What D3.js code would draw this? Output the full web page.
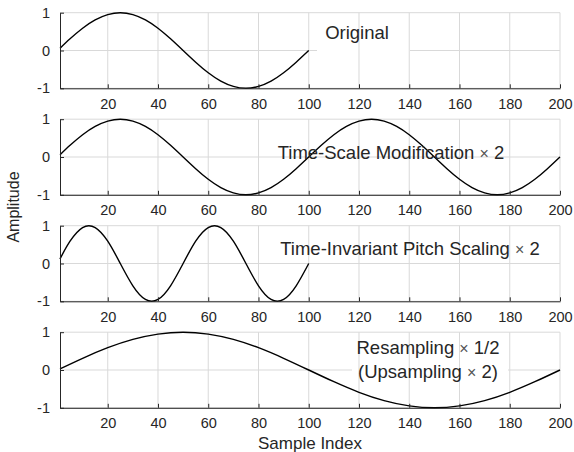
<!DOCTYPE html>
<html>
<head>
<meta charset="utf-8">
<script src="https://cdn.jsdelivr.net/npm/d3@7"></script>
<style>
  body { margin: 0; background: #fff; }
  text { font-family: "Liberation Sans", Arial, Helvetica, sans-serif; fill: #262626; }
</style>
</head>
<body>
<script>
// sample positions and amplitudes
var xOriginal = [1, 5, 10, 15, 20, 25, 30, 35, 40, 45, 50, 55, 60, 65, 70, 75, 80, 85, 90, 95, 100];
var yOriginal = [0.06, 0.31, 0.59, 0.81, 0.95, 1, 0.95, 0.81, 0.59, 0.31, 0, -0.31, -0.59, -0.81, -0.95, -1, -0.95, -0.81, -0.59, -0.31, 0];

var xTsm = [1, 5, 10, 15, 20, 25, 30, 35, 40, 45, 50, 55, 60, 65, 70, 75, 80, 85, 90, 95, 100,
            105, 110, 115, 120, 125, 130, 135, 140, 145, 150, 155, 160, 165, 170, 175, 180, 185, 190, 195, 200];
var yTsm = [0.06, 0.31, 0.59, 0.81, 0.95, 1, 0.95, 0.81, 0.59, 0.31, 0, -0.31, -0.59, -0.81, -0.95, -1, -0.95, -0.81, -0.59, -0.31, 0,
            0.31, 0.59, 0.81, 0.95, 1, 0.95, 0.81, 0.59, 0.31, 0, -0.31, -0.59, -0.81, -0.95, -1, -0.95, -0.81, -0.59, -0.31, 0];

var xPitch = [1, 5, 10, 15, 20, 25, 30, 35, 40, 45, 50, 55, 60, 65, 70, 75, 80, 85, 90, 95, 100];
var yPitch = [0.12, 0.59, 0.95, 0.95, 0.59, 0, -0.59, -0.95, -0.95, -0.59, 0, 0.59, 0.95, 0.95, 0.59, 0, -0.59, -0.95, -0.95, -0.59, 0];

var xResample = [1, 10, 20, 30, 40, 50, 60, 70, 80, 90, 100, 110, 120, 130, 140, 150, 160, 170, 180, 190, 200];
var yResample = [0.03, 0.31, 0.59, 0.81, 0.95, 1, 0.95, 0.81, 0.59, 0.31, 0, -0.31, -0.59, -0.81, -0.95, -1, -0.95, -0.81, -0.59, -0.31, 0];

var xTicks = [20, 40, 60, 80, 100, 120, 140, 160, 180, 200];
var yTicks = [-1, 0, 1];

var panels = [
  {xs: xOriginal, ys: yOriginal, label: ["Original"], lx: 357, ly: [39], box: [317, 18, 93, 36]},
  {xs: xTsm, ys: yTsm, label: ["Time-Scale Modification |2"], lx: 391, ly: [159], box: null},
  {xs: xPitch, ys: yPitch, label: ["Time-Invariant Pitch Scaling |2"], lx: 410, ly: [255], box: null},
  {xs: xResample, ys: yResample, label: ["Resampling |1/2", "(Upsampling |2)"], lx: 428, ly: [354, 378], box: [352, 338, 156, 44]}
];

var width = 574, height = 452,
    left = 60, right = 560,
    top0 = 12.7, step = 106.5, ph = 75.6;

var svg = d3.select("body").append("svg")
    .attr("width", width)
    .attr("height", height);

var x = d3.scaleLinear().domain([1, 200]).range([left, right]);

var line = d3.line().curve(d3.curveNatural);

panels.forEach(function(p, i) {
  var top = top0 + i * step;
  var y = d3.scaleLinear().domain([-1, 1]).range([top + ph, top]);
  var g = svg.append("g");

  // horizontal grid
  g.selectAll(".hg").data(yTicks).enter().append("line")
      .attr("x1", left).attr("x2", right)
      .attr("y1", function(d) { return y(d); })
      .attr("y2", function(d) { return y(d); })
      .attr("stroke", "#d9d9d9").attr("stroke-width", 1);

  // white label box hides the horizontal grid
  if (p.box) {
    g.append("rect")
        .attr("x", p.box[0]).attr("y", p.box[1])
        .attr("width", p.box[2]).attr("height", p.box[3])
        .attr("fill", "#fff");
  }

  // vertical grid
  g.selectAll(".vg").data(xTicks).enter().append("line")
      .attr("x1", function(d) { return x(d); })
      .attr("x2", function(d) { return x(d); })
      .attr("y1", top).attr("y2", top + ph)
      .attr("stroke", "#d9d9d9").attr("stroke-width", 1);

  // curve
  var pts = p.xs.map(function(v, k) { return [x(v), y(p.ys[k])]; });
  g.append("path")
      .attr("d", line(pts))
      .attr("fill", "none")
      .attr("stroke", "#000")
      .attr("stroke-width", 1.4);

  // bottom axis
  var xa = g.append("g")
      .attr("transform", "translate(0," + (top + ph) + ")")
      .call(d3.axisBottom(x).tickValues(xTicks).tickSizeInner(-4).tickSizeOuter(0).tickPadding(10));
  xa.select(".domain").attr("stroke", "#262626");
  xa.selectAll(".tick line").attr("stroke", "#262626");
  xa.selectAll("text").attr("font-size", 14.5).attr("fill", "#262626")
      .attr("font-family", "Liberation Sans, Arial, sans-serif");

  // left axis
  var ya = g.append("g")
      .attr("transform", "translate(" + left + ",0)")
      .call(d3.axisLeft(y).tickValues(yTicks).tickSizeInner(-4).tickSizeOuter(0).tickPadding(10)
        .tickFormat(function(d) { return String(d); }));
  ya.select(".domain").attr("stroke", "#262626");
  ya.selectAll(".tick line").attr("stroke", "#262626");
  ya.selectAll("text").attr("font-size", 14.5).attr("fill", "#262626")
      .attr("font-family", "Liberation Sans, Arial, sans-serif");

  // panel label, "|" marks the times sign
  p.label.forEach(function(s, k) {
    var parts = s.split("|");
    var t = g.append("text")
        .attr("x", p.lx).attr("y", p.ly[k])
        .attr("text-anchor", "middle")
        .attr("font-size", 18.5);
    t.append("tspan").text(parts[0]);
    if (parts.length > 1) {
      t.append("tspan").attr("font-size", 16).attr("fill", "#555").text("\u00d7");
      t.append("tspan").text(" " + parts[1]);
    }
  });
});

// axis titles
svg.append("text")
    .attr("transform", "translate(19," + 207 + ") rotate(-90)")
    .attr("text-anchor", "middle")
    .attr("font-size", 16)
    .text("Amplitude");

svg.append("text")
    .attr("x", 310).attr("y", 449)
    .attr("text-anchor", "middle")
    .attr("font-size", 17)
    .text("Sample Index");
</script>
</body>
</html>
